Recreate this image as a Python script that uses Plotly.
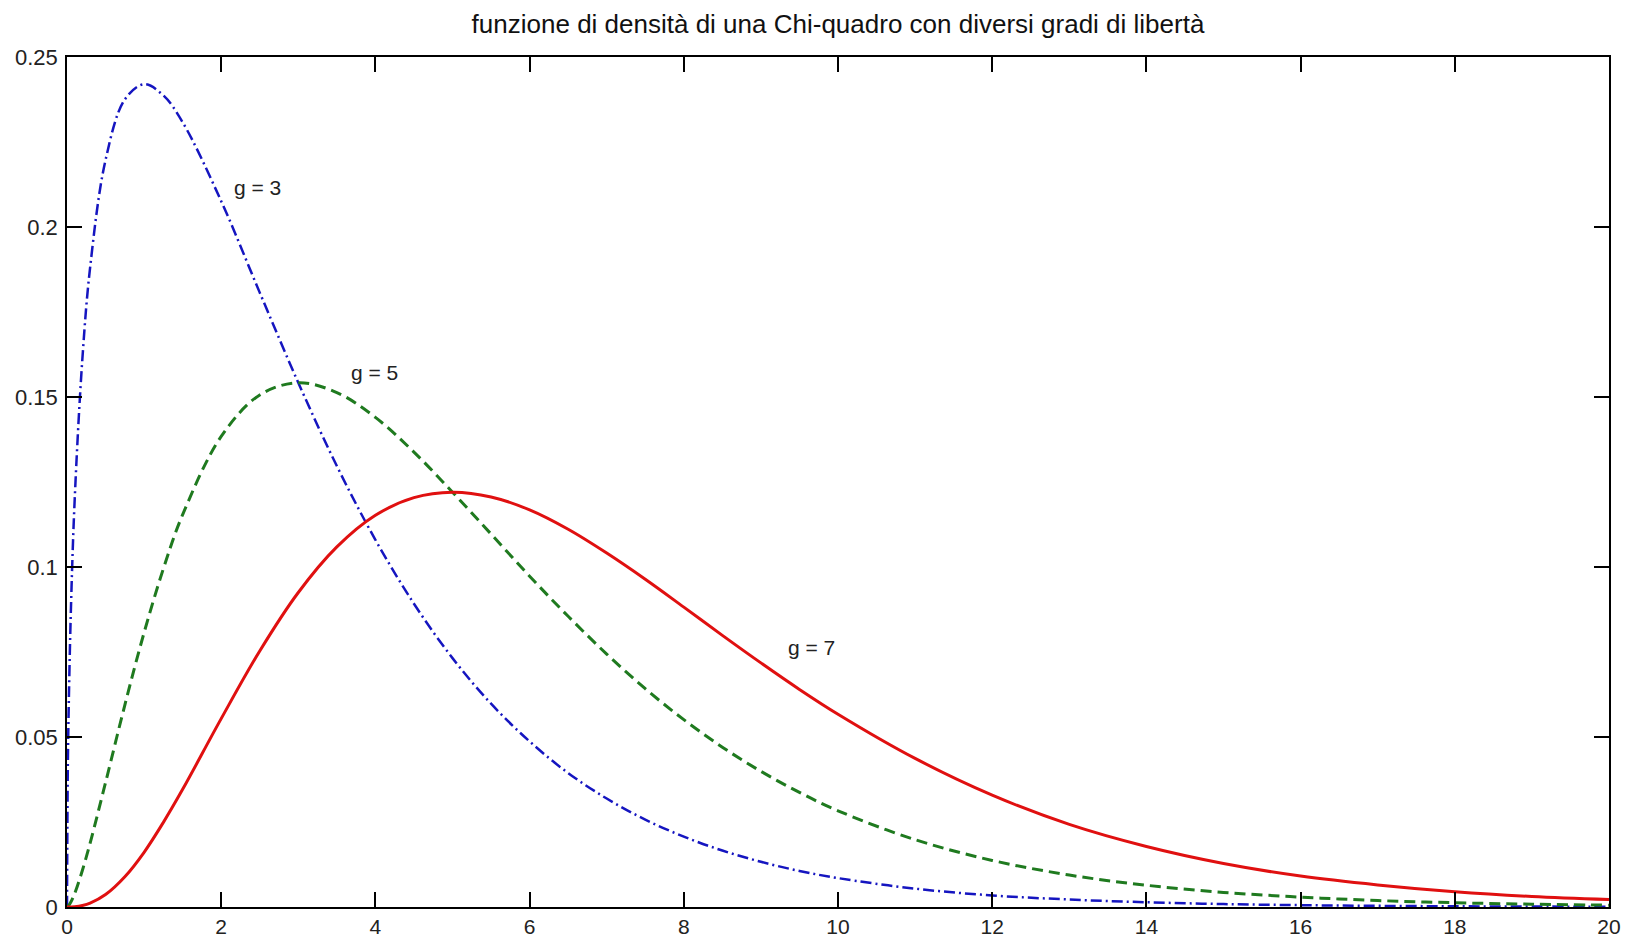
import plotly.graph_objects as go

x_vals = [0, 0.01, 0.02, 0.05, 0.1, 0.2, 0.3, 0.5, 0.75, 1, 1.25, 1.5, 2, 2.5, 3, 3.5, 4, 4.5, 5,
          5.5, 6, 6.5, 7, 7.5, 8, 8.5, 9, 9.5, 10, 11, 12, 13, 14, 15, 16, 17, 18, 19, 20]

g3 = [0, 0.0397, 0.0559, 0.0870, 0.1200, 0.1614, 0.1881, 0.2197, 0.2375, 0.2420, 0.2387, 0.2308,
      0.2076, 0.1807, 0.1542, 0.1297, 0.1080, 0.0892, 0.0732, 0.0598, 0.0487, 0.0394, 0.0319,
      0.0257, 0.0207, 0.0166, 0.0133, 0.0106, 0.0085, 0.0054, 0.0034, 0.0022, 0.0014, 0.00086,
      0.00054, 0.00034, 0.00021, 0.00013, 0.00008]

g5 = [0, 0.00013, 0.00037, 0.00145, 0.0040, 0.0108, 0.0188, 0.0366, 0.0594, 0.0807, 0.0995, 0.1154,
      0.1384, 0.1506, 0.1542, 0.1513, 0.1440, 0.1338, 0.1220, 0.1097, 0.0973, 0.0855, 0.0744,
      0.0642, 0.0551, 0.0470, 0.0399, 0.0337, 0.0283, 0.0198, 0.0137, 0.0094, 0.0064, 0.0043,
      0.0029, 0.0019, 0.00125, 0.00082, 0.00054]

g7 = [0, 0.0, 0.000001, 0.000015, 0.00008, 0.00043, 0.00113, 0.00366, 0.0089, 0.0161, 0.0249, 0.0346,
      0.0554, 0.0753, 0.0925, 0.1059, 0.1152, 0.1204, 0.1220, 0.1206, 0.1168, 0.1111, 0.1041,
      0.0964, 0.0882, 0.0799, 0.0718, 0.0640, 0.0567, 0.0437, 0.0329, 0.0243, 0.0178, 0.0128,
      0.0091, 0.0065, 0.0045, 0.0031, 0.0022]

x_ticks = [0, 2, 4, 6, 8, 10, 12, 14, 16, 18, 20]
y_ticks = [0, 0.05, 0.1, 0.15, 0.2, 0.25]

labels = ["g = 3", "g = 5", "g = 7"]
label_x = [2.47, 3.99, 9.65]
label_y = [0.2117, 0.1573, 0.0762]

title_text = "funzione di densità di una Chi-quadro con diversi gradi di libertà"

FONT = "Liberation Sans, Arial, sans-serif"

fig = go.Figure()
fig.add_trace(go.Scatter(x=x_vals, y=g3, mode="lines", line=dict(color="#1515c0", width=2.5, dash="11px,4px,2px,4px", shape="spline"), showlegend=False))
fig.add_trace(go.Scatter(x=x_vals, y=g5, mode="lines", line=dict(color="#1f7a1f", width=3, dash="11px,6px", shape="spline"), showlegend=False))
fig.add_trace(go.Scatter(x=x_vals, y=g7, mode="lines", line=dict(color="#e01010", width=3, shape="spline"), showlegend=False))

for t, ax_, ay_ in zip(labels, label_x, label_y):
    fig.add_annotation(x=ax_, y=ay_, text=t, showarrow=False, font=dict(family=FONT, size=21, color="#222222"))

axis_common = dict(showgrid=False, zeroline=False, showline=True, linecolor="black", linewidth=1.5,
                   mirror="ticks", ticks="inside", ticklen=15, tickwidth=1.5, tickcolor="black",
                   automargin=False)

fig.update_xaxes(range=[0, 20], tickvals=x_ticks,
                 tickfont=dict(family=FONT, size=21, color="#222222"), **axis_common)
fig.update_yaxes(range=[0, 0.25], tickvals=y_ticks, ticklabelstandoff=3,
                 tickfont=dict(family=FONT, size=22, color="#222222"), **axis_common)

fig.update_layout(
    width=1630, height=941,
    margin=dict(l=67, r=21, t=57, b=34),
    paper_bgcolor="white", plot_bgcolor="white",
    title=dict(text=title_text, x=0.5, xref="paper", y=1 - 24 / 941, yref="container",
               yanchor="middle", xanchor="center", automargin=False,
               font=dict(family=FONT, size=26, color="#111111")),
)

fig.write_html("out.html")
